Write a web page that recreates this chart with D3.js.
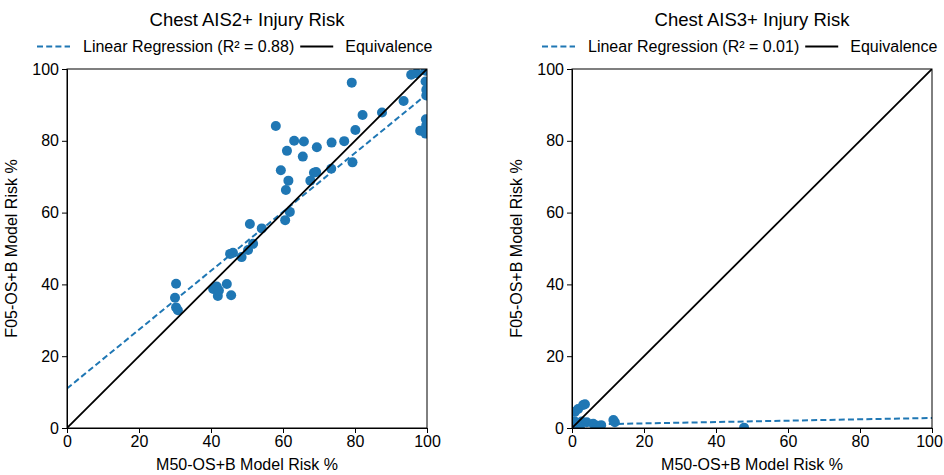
<!DOCTYPE html>
<html>
<head>
<meta charset="utf-8">
<script src="https://cdn.jsdelivr.net/npm/d3@7"></script>
<style>
  html, body { margin: 0; padding: 0; background: #fff; }
  svg { display: block; font-family: "Liberation Sans", Arial, sans-serif; }
</style>
</head>
<body>
<svg id="chart" width="944" height="475"></svg>
<script>
// Chest AIS2+ : M50-OS+B risk (x) vs F05-OS+B risk (y), percent
const ais2X = [30.3, 30.0, 30.3, 30.8, 40.6, 41.6, 41.9, 42.2, 44.4, 45.6,
               45.3, 46.1, 48.5, 50.3, 51.7, 50.8, 54.1, 58.0, 59.4, 60.6,
               61.9, 60.8, 61.5, 61.1, 63.1, 65.8, 65.5, 67.6, 68.6, 69.2,
               69.4, 73.4, 73.5, 77.0, 79.3, 79.1, 80.1, 82.1, 87.5, 93.5,
               95.6, 97.1, 99.6, 99.6, 99.8, 99.8, 99.7, 99.8, 98.1, 99.6];
const ais2Y = [40.2, 36.3, 33.6, 32.8, 38.7, 39.4, 36.8, 38.3, 40.1, 37.0,
               48.5, 48.8, 47.6, 49.6, 51.3, 56.8, 55.6, 84.1, 71.8, 57.9,
               60.2, 66.3, 68.9, 77.2, 80.0, 79.8, 75.6, 68.9, 71.1, 71.3,
               78.2, 72.2, 79.5, 79.9, 74.0, 96.2, 83.0, 87.2, 87.9, 91.1,
               98.4, 98.8, 99.5, 96.5, 94.2, 92.6, 86.0, 84.3, 82.8, 82.0];

// Chest AIS3+
const ais3X = [0.3, 0.8, 1.7, 3.1, 3.6, 0.8, 1.5, 2.7, 4.1, 5.9,
               7.0, 8.1, 11.5, 11.9, 47.8, 2.2, 0.2];
const ais3Y = [0.2, 4.5, 5.3, 6.4, 6.6, 1.8, 0.6, 1.8, 1.6, 1.2,
               0.6, 0.8, 2.2, 1.6, 0.1, 0.3, 1.0];

// Fitted regression lines: [intercept, slope]
const ais2Fit = [11.0, 0.82];
const ais3Fit = [0.9, 0.019];
const r2Labels = ["0.88", "0.01"];

const panelTitles = ["Chest AIS2+ Injury Risk", "Chest AIS3+ Injury Risk"];
const tickValues = [0, 20, 40, 60, 80, 100];
const xLabel = "M50-OS+B Model Risk %";
const yLabel = "F05-OS+B Model Risk %";

const blue = "#1f77b4";
const fontSize = 16;
const svg = d3.select("#chart");

const panels = [
  { left: 67, xs: ais2X, ys: ais2Y, fit: ais2Fit, r2: r2Labels[0], title: panelTitles[0] },
  { left: 572, xs: ais3X, ys: ais3Y, fit: ais3Fit, r2: r2Labels[1], title: panelTitles[1] }
];
const plotW = 360, plotTop = 69, plotH = 359;

panels.forEach((p, i) => {
  const x = d3.scaleLinear().domain([0, 100]).range([p.left, p.left + plotW]);
  const y = d3.scaleLinear().domain([0, 100]).range([plotTop + plotH, plotTop]);
  const g = svg.append("g");
  const clipId = "clip" + i;
  svg.append("clipPath").attr("id", clipId).append("rect")
    .attr("x", p.left).attr("y", plotTop).attr("width", plotW).attr("height", plotH);

  const plot = g.append("g").attr("clip-path", `url(#${clipId})`);

  // scatter
  plot.selectAll("circle").data(d3.range(p.xs.length)).join("circle")
    .attr("cx", k => x(p.xs[k])).attr("cy", k => y(p.ys[k]))
    .attr("r", 5).attr("fill", blue);

  // regression line
  plot.append("line")
    .attr("x1", x(0)).attr("y1", y(p.fit[0]))
    .attr("x2", x(100)).attr("y2", y(p.fit[0] + p.fit[1] * 100))
    .attr("stroke", blue).attr("stroke-width", 2).attr("stroke-dasharray", "6,3.2");

  // equivalence line
  plot.append("line")
    .attr("x1", x(0)).attr("y1", y(0)).attr("x2", x(100)).attr("y2", y(100))
    .attr("stroke", "#000").attr("stroke-width", 1.8);

  // axes
  const xAxis = g.append("g").attr("transform", `translate(0,${plotTop + plotH})`)
    .call(d3.axisBottom(x).tickValues(tickValues).tickSize(5).tickPadding(3));
  const yAxis = g.append("g").attr("transform", `translate(${p.left},0)`)
    .call(d3.axisLeft(y).tickValues(tickValues).tickSize(5).tickPadding(3));
  [xAxis, yAxis].forEach(a => {
    a.selectAll("text").attr("font-size", fontSize).attr("fill", "#000")
      .attr("font-family", "Liberation Sans, Arial, sans-serif");
    a.selectAll("line").attr("stroke", "#000");
    a.select(".domain").attr("stroke", "#000");
  });
  // keep the last x tick label of the right-hand panel inside the page
  if (i === 1) {
    xAxis.selectAll(".tick text").filter(d => d === 100).attr("dx", -3);
  }

  // frame
  g.append("rect").attr("x", p.left).attr("y", plotTop).attr("width", plotW).attr("height", plotH)
    .attr("fill", "none").attr("stroke", "#000").attr("stroke-width", 1);

  // axis titles
  g.append("text").attr("x", p.left + plotW / 2).attr("y", 470)
    .attr("text-anchor", "middle").attr("font-size", fontSize).text(xLabel);
  g.append("text")
    .attr("transform", `translate(${p.left - 50},${plotTop + plotH / 2}) rotate(-90)`)
    .attr("text-anchor", "middle").attr("font-size", fontSize).text(yLabel);

  // panel title
  g.append("text").attr("x", p.left + plotW / 2).attr("y", 26)
    .attr("text-anchor", "middle").attr("font-size", 18.5).text(p.title);

  // legend
  const lg = g.append("g");
  const lx = p.left - 30;
  const ly = 46.5;
  lg.append("line").attr("x1", lx).attr("x2", lx + 33).attr("y1", ly).attr("y2", ly)
    .attr("stroke", blue).attr("stroke-width", 2).attr("stroke-dasharray", "6,3.2");
  const t1 = lg.append("text").attr("x", lx + 46).attr("y", 52).attr("font-size", fontSize)
    .text(`Linear Regression (R\u00B2 = ${p.r2})`);
  const w1 = t1.node().getComputedTextLength();
  const sx = lx + 46 + w1 + 6;
  lg.append("line").attr("x1", sx).attr("x2", sx + 33).attr("y1", ly).attr("y2", ly)
    .attr("stroke", "#000").attr("stroke-width", 1.8);
  lg.append("text").attr("x", sx + 45).attr("y", 52).attr("font-size", fontSize).text("Equivalence");
});
</script>
</body>
</html>
